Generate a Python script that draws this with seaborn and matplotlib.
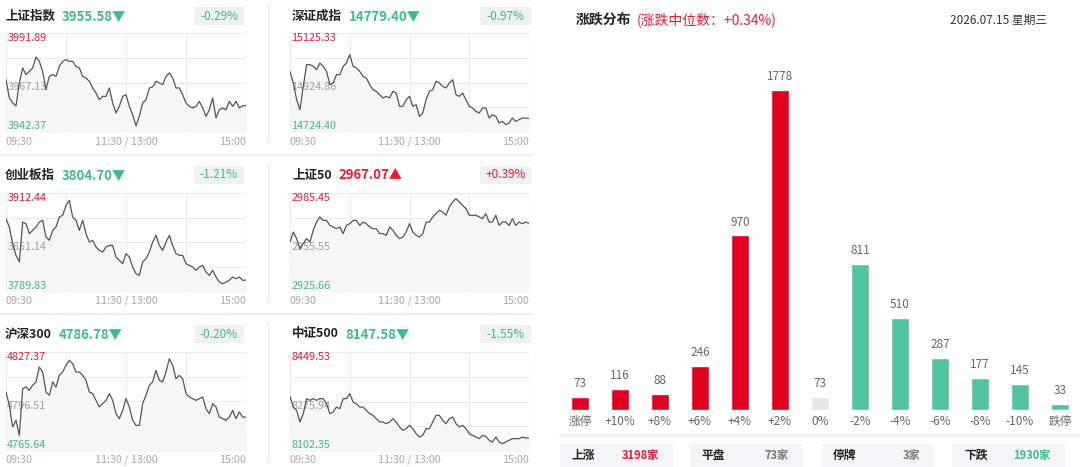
import numpy as np
import seaborn as sns
import matplotlib
matplotlib.use("Agg")
from matplotlib import pyplot as plt
from matplotlib.patches import Rectangle

W, H = 1080, 467

# ---- index mini charts ----
index_names = ["上证指数", "深证成指", "创业板指", "上证50", "沪深300", "中证500"]
index_last = ["3955.58", "14779.40", "3804.70", "2967.07", "4786.78", "8147.58"]
index_up = [False, False, False, True, False, False]
index_pct = ["-0.29%", "-0.97%", "-1.21%", "+0.39%", "-0.20%", "-1.55%"]
index_hi = [3991.89, 15125.33, 3912.44, 2985.45, 4827.37, 8449.53]
index_mid = ["3967.13", "14924.86", "3851.14", "2955.55", "4796.51", "8275.94"]
index_lo = [3942.37, 14724.40, 3789.83, 2925.66, 4765.64, 8102.35]
time_labels = ["09:30", "11:30 / 13:00", "15:00"]

sh_line = [3968.6, 3959.4, 3956.9, 3955.5, 3966.9, 3974.4, 3971.1, 3972.7, 3974.4, 3979.9,
           3977.7, 3972.7, 3963.6, 3970.2, 3971.1, 3970.2, 3975.2, 3977.7, 3978.6, 3977.7,
           3977.7, 3975.2, 3974.4, 3970.2, 3969.4, 3967.7, 3964.4, 3961.9, 3958.5, 3960.2,
           3960.2, 3964.4, 3956.9, 3951.9, 3955.2, 3960.2, 3961.0, 3955.2, 3951.0, 3945.5,
           3950.2, 3956.9, 3958.5, 3964.4, 3964.9, 3967.7, 3966.9, 3966.1, 3970.2, 3971.9,
           3969.4, 3964.4, 3964.4, 3961.0, 3956.9, 3955.2, 3954.4, 3955.2, 3957.7, 3954.4,
           3950.2, 3953.5, 3959.4, 3949.4, 3953.5, 3954.4, 3953.5, 3957.7, 3955.2, 3957.7,
           3954.4, 3955.5, 3955.58]
sz_line = [14970.0, 14922.8, 14855.3, 14814.8, 14909.3, 14997.1, 14997.1, 14990.3, 14976.8, 15003.8,
           14990.3, 14970.0, 14916.1, 14922.8, 14956.6, 14956.6, 14990.3, 15003.8, 15037.6, 14990.3,
           14983.6, 14970.0, 14949.8, 14943.1, 14916.1, 14895.8, 14889.1, 14875.6, 14862.1, 14868.8,
           14862.1, 14889.1, 14882.3, 14828.3, 14828.3, 14855.3, 14868.8, 14828.3, 14835.1, 14787.8,
           14801.3, 14855.3, 14889.1, 14895.8, 14929.6, 14922.8, 14909.3, 14902.6, 14922.8, 14936.3,
           14875.6, 14868.8, 14882.3, 14855.3, 14828.3, 14821.6, 14808.1, 14801.3, 14821.6, 14821.6,
           14781.1, 14794.6, 14787.8, 14760.8, 14767.6, 14754.1, 14760.8, 14781.1, 14767.6, 14774.3,
           14781.1, 14781.1, 14779.40]
cy_line = [3880.6, 3870.3, 3849.7, 3835.2, 3827.0, 3876.5, 3874.4, 3862.1, 3866.2, 3870.3,
           3876.5, 3878.6, 3857.9, 3853.8, 3866.2, 3870.3, 3882.7, 3884.8, 3897.1, 3903.3,
           3882.7, 3878.6, 3866.2, 3878.6, 3862.1, 3851.7, 3853.8, 3845.5, 3841.4, 3839.3,
           3845.5, 3847.6, 3847.6, 3833.2, 3829.0, 3824.9, 3837.3, 3833.2, 3820.8, 3812.5,
           3810.5, 3827.0, 3831.1, 3839.3, 3851.7, 3860.0, 3847.6, 3841.4, 3851.7, 3860.0,
           3847.6, 3837.3, 3835.2, 3835.2, 3824.9, 3822.8, 3820.8, 3816.6, 3820.8, 3822.8,
           3814.6, 3810.5, 3816.6, 3808.4, 3802.2, 3800.1, 3802.2, 3804.3, 3808.4, 3806.3,
           3808.4, 3804.3, 3804.70]
sz50_line = [2955.9, 2961.9, 2957.9, 2951.8, 2954.9, 2957.9, 2955.9, 2962.9, 2967.9, 2971.0,
             2968.9, 2968.9, 2965.9, 2964.9, 2963.9, 2964.9, 2960.9, 2965.9, 2966.9, 2968.9,
             2968.9, 2965.9, 2967.9, 2966.9, 2964.9, 2963.9, 2963.9, 2960.9, 2960.9, 2959.9,
             2964.9, 2962.9, 2959.9, 2957.9, 2958.9, 2961.9, 2966.9, 2961.9, 2959.9, 2958.9,
             2960.9, 2967.9, 2967.9, 2971.0, 2973.0, 2975.0, 2974.0, 2972.0, 2977.0, 2980.0,
             2982.0, 2980.0, 2978.0, 2976.0, 2972.0, 2972.0, 2972.0, 2971.0, 2969.9, 2973.0,
             2967.9, 2967.9, 2972.0, 2965.9, 2967.9, 2967.9, 2965.9, 2969.9, 2965.9, 2967.9,
             2966.9, 2967.9, 2967.07]
hs300_line = [4802.4, 4794.1, 4780.6, 4784.8, 4775.4, 4804.5, 4805.5, 4803.5, 4806.6, 4808.7,
              4818.0, 4814.9, 4802.4, 4800.4, 4808.7, 4805.5, 4812.8, 4814.9, 4819.1, 4822.2,
              4820.1, 4814.9, 4814.9, 4812.8, 4809.7, 4802.4, 4801.4, 4797.2, 4793.1, 4795.2,
              4797.2, 4801.4, 4797.2, 4788.9, 4785.8, 4791.0, 4798.3, 4793.1, 4784.8, 4781.6,
              4781.6, 4795.2, 4800.4, 4806.6, 4808.7, 4815.9, 4809.7, 4808.7, 4814.9, 4823.2,
              4819.1, 4810.7, 4812.8, 4810.7, 4801.4, 4799.3, 4798.3, 4797.2, 4798.3, 4799.3,
              4792.0, 4788.9, 4795.2, 4793.1, 4786.8, 4785.8, 4784.8, 4786.8, 4791.0, 4785.8,
              4790.0, 4786.8, 4786.78]
zz500_line = [8294.1, 8256.6, 8245.0, 8204.1, 8233.3, 8285.9, 8280.0, 8285.9, 8280.0, 8285.9,
              8285.9, 8268.3, 8233.3, 8239.1, 8256.6, 8250.8, 8285.9, 8285.9, 8303.4, 8274.2,
              8268.3, 8256.6, 8256.6, 8245.0, 8233.3, 8227.4, 8215.7, 8204.1, 8204.1, 8198.2,
              8204.1, 8215.7, 8204.1, 8186.5, 8174.8, 8180.7, 8192.4, 8180.7, 8163.1, 8151.4,
              8157.3, 8180.7, 8180.7, 8204.1, 8227.4, 8227.4, 8209.9, 8198.2, 8215.7, 8221.6,
              8198.2, 8186.5, 8192.4, 8180.7, 8163.1, 8157.3, 8151.4, 8145.6, 8157.3, 8153.8,
              8139.8, 8133.9, 8151.4, 8133.9, 8128.1, 8133.9, 8139.8, 8145.6, 8145.6, 8145.6,
              8151.4, 8147.9, 8147.58]
index_lines = [sh_line, sz_line, cy_line, sz50_line, hs300_line, zz500_line]

# ---- distribution bars ----
dist_labels = ["涨停", "+10%", "+8%", "+6%", "+4%", "+2%", "0%",
               "-2%", "-4%", "-6%", "-8%", "-10%", "跌停"]
dist_counts = [73, 116, 88, 246, 970, 1778, 73, 811, 510, 287, 177, 145, 33]
dist_title = "涨跌分布"
dist_median = "(涨跌中位数：+0.34%)"
dist_date = "2026.07.15 星期三"
stat_names = ["上涨", "平盘", "停牌", "下跌"]
stat_values = ["3198家", "73家", "3家", "1930家"]

RED = "#e2001f"
RED_TXT = "#ea1a35"
GREEN = "#52c3a0"
GREEN_TXT = "#3dbb8e"
GREY_BAR = "#e6e6e6"

sns.set_theme(style="white")
plt.rcParams['font.family'] = ['Noto Sans CJK SC', 'DejaVu Sans']

fig = plt.figure(figsize=(W / 100, H / 100), dpi=100)
fig.patch.set_facecolor("white")


def px_axes(x0, y0, x1, y1):
    return fig.add_axes([x0 / W, 1 - y1 / H, (x1 - x0) / W, (y1 - y0) / H])


bg = px_axes(0, 0, W, H)
bg.set_xlim(0, W)
bg.set_ylim(H, 0)
bg.axis("off")

# dividers on the left part
for yy in [155, 314]:
    bg.plot([0, 532], [yy, yy], color="#f0f0f0", lw=1.5)
for y0, y1 in [(3, 142), (163, 302), (322, 462)]:
    bg.plot([268, 268], [y0, y1], color="#ededed", lw=1)

col_x = [(6, 246), (290, 529)]
row_y = [(33, 132), (193, 292), (352, 451)]
head_y = [16, 175, 334]
time_y = [142, 301, 460]
name_x = [5, 292]
box_x = [(194, 244), (480, 531)]

for k in range(6):
    r, c = k // 2, k % 2
    x0, x1 = col_x[c]
    y0, y1 = row_y[r]
    hy = head_y[r]
    up = index_up[k]
    col_txt = RED_TXT if up else GREEN_TXT

    name = bg.text(name_x[c], hy, index_names[k], fontsize=9, fontweight="bold",
                   color="#222222", ha="left", va="center")
    arrow = "▲" if up else "▼"
    bg.annotate(index_last[k] + arrow, xy=(1, 0.5), xycoords=name, xytext=(5, 0),
                textcoords="offset points", ha="left", va="center",
                fontsize=9.5, fontweight="bold", color=col_txt)
    bx0, bx1 = box_x[c]
    bg.add_patch(Rectangle((bx0, hy - 9), bx1 - bx0, 18, facecolor="#eff1f5", edgecolor="none"))
    bg.text((bx0 + bx1) / 2, hy, index_pct[k], fontsize=8.5, color=col_txt,
            ha="center", va="center")

    for lbl, xx, ha in zip(time_labels, [x0, (x0 + x1) / 2, x1], ["left", "center", "right"]):
        bg.text(xx, time_y[r], lbl, fontsize=7.8, color="#a8a8a8", ha=ha, va="center")

    ax = px_axes(x0, y0, x1, y1)
    ax.set_facecolor("none")
    vals = np.array(index_lines[k])
    minutes = np.linspace(0, 240, len(vals))
    lo, hi = index_lo[k], index_hi[k]
    ax.fill_between(minutes, vals, lo, color="#f6f6f6", alpha=0.9, lw=0, zorder=1)
    sns.lineplot(x=minutes, y=vals, ax=ax, color="#555555", linewidth=0.9, zorder=3)
    ax.set_xlim(0, 240)
    ax.set_ylim(lo, hi)
    ax.set_xticks([0, 60, 120, 180, 240])
    ax.set_yticks(np.linspace(lo, hi, 5))
    ax.grid(True, color="#ebebeb", lw=0.8)
    ax.tick_params(length=0, labelleft=False, labelbottom=False)
    ax.set_xlabel("")
    ax.set_ylabel("")
    for s in ax.spines.values():
        s.set_visible(False)
    ax.text(0.005, 0.95, f"{hi:.2f}", transform=ax.transAxes, fontsize=7.8,
            color=RED_TXT, ha="left", va="center", zorder=2)
    ax.text(0.005, 0.45, index_mid[k], transform=ax.transAxes, fontsize=7.8,
            color="#a0a0a0", ha="left", va="center", zorder=2)
    ax.text(0.005, 0.06, f"{lo:.2f}", transform=ax.transAxes, fontsize=7.8,
            color=GREEN_TXT, ha="left", va="center", zorder=2)

# ---- right: distribution ----
t = bg.text(576, 20, dist_title, fontsize=10, fontweight="bold", color="#222222",
            ha="left", va="center")
bg.annotate(dist_median, xy=(1, 0.5), xycoords=t, xytext=(4, 0), textcoords="offset points",
            ha="left", va="center", fontsize=10, color=RED_TXT)
bg.text(1047, 20, dist_date, fontsize=8.5, color="#333333", ha="right", va="center")

palette = {}
for i, lbl in enumerate(dist_labels):
    if lbl == "0%":
        palette[lbl] = GREY_BAR
    elif i < dist_labels.index("0%"):
        palette[lbl] = RED
    else:
        palette[lbl] = GREEN

axb = px_axes(560, 60, 1080, 410)
axb.set_facecolor("none")
sns.barplot(x=dist_labels, y=dist_counts, hue=dist_labels, palette=palette,
            width=0.45, saturation=1, legend=False, ax=axb)
for i, v in enumerate(dist_counts):
    axb.annotate(str(v), (i, v), xytext=(0, 5), textcoords="offset points",
                 ha="center", va="bottom", fontsize=8.5, color="#666666")
axb.set_xlim(-0.5, len(dist_labels) - 0.5)
axb.set_ylim(0, 1945)
axb.set_yticks([])
axb.set_xlabel("")
axb.set_ylabel("")
axb.tick_params(axis="x", length=0, pad=3.5, labelsize=8.5, labelcolor="#666666")
for s in axb.spines.values():
    s.set_visible(False)

bg.plot([560, 1080], [435, 435], color="#f0f0f0", lw=2)
box_starts = [560, 690, 821, 952]
stat_colors = [RED_TXT, "#777777", "#777777", GREEN_TXT]
for x0, nm, val, cc in zip(box_starts, stat_names, stat_values, stat_colors):
    bg.add_patch(Rectangle((x0, 444), 113, 23, facecolor="#f3f5f9", edgecolor="none"))
    bg.text(x0 + 12, 455, nm, fontsize=8.5, fontweight="bold", color="#222222",
            ha="left", va="center")
    bg.text(x0 + 99, 455, val, fontsize=8, fontweight="bold", color=cc,
            ha="right", va="center")

fig.savefig("out.png", dpi=100)
